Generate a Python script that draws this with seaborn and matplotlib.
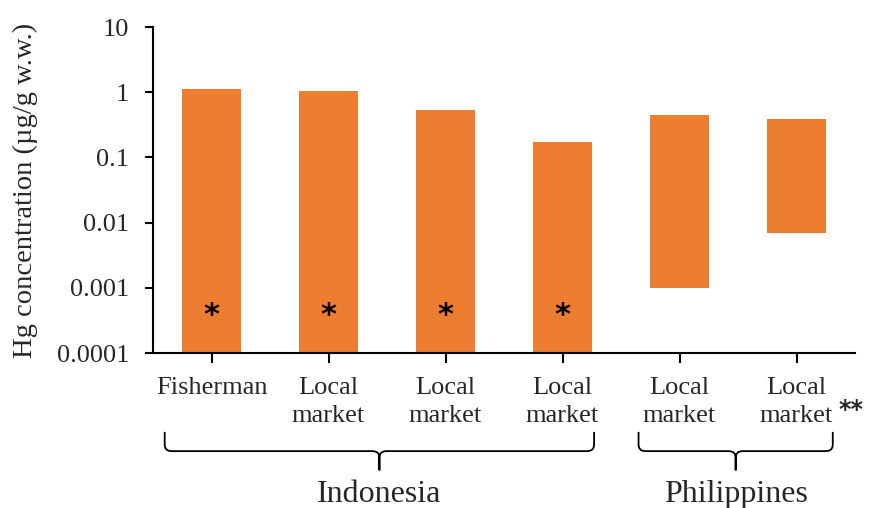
import numpy as np
import pandas as pd
import seaborn as sns
import matplotlib.pyplot as plt
from matplotlib.path import Path
from matplotlib.patches import PathPatch

# ---- data ----
site_ids = ["F1", "LM1", "LM2", "LM3", "LM4", "LM5"]
tick_labels = ["Fisherman", "Local\nmarket", "Local\nmarket", "Local\nmarket",
               "Local\nmarket", "Local\nmarket"]
country = ["Indonesia", "Indonesia", "Indonesia", "Indonesia",
           "Philippines", "Philippines"]
hg_min = [0.0001, 0.0001, 0.0001, 0.0001, 0.001, 0.007]
hg_max = [1.12, 1.04, 0.53, 0.17, 0.44, 0.385]
below_lod = [True, True, True, True, False, False]

df = pd.DataFrame({"site": site_ids, "lo": hg_min, "hi": hg_max})
df["span"] = df["hi"] - df["lo"]

sns.set_style("ticks")
plt.rcParams["font.family"] = ["Liberation Serif", "DejaVu Serif"]

fig = plt.figure(figsize=(8.73, 5.08), dpi=100)
ax = fig.add_axes([153 / 873, 1 - 353 / 508, 702 / 873, 326 / 508])

sns.barplot(data=df, x="site", y="span", bottom=df["lo"].values, color="#ED7D31",
            width=0.5, saturation=1, edgecolor="none", ax=ax)

ax.set_yscale("log")
ax.set_ylim(1e-4, 10)
ax.set_xlim(-0.5, len(site_ids) - 0.5)
ax.set_yticks([1e-4, 1e-3, 1e-2, 1e-1, 1, 10])
ax.set_yticklabels(["0.0001", "0.001", "0.01", "0.1", "1", "10"])
ax.minorticks_off()
ax.set_xticks(range(len(site_ids)))
ax.set_xticklabels(tick_labels, linespacing=1.4)
ax.tick_params(axis="y", labelsize=19, length=6, width=1.5, pad=11, color="black")
ax.tick_params(axis="x", labelsize=19, length=7, width=1.5, pad=10, color="black")
ax.set_xlabel("")
ax.set_ylabel("Hg concentration (µg/g w.w.)", fontsize=20.5, labelpad=14)
sns.despine(ax=ax)
for s in ["left", "bottom"]:
    ax.spines[s].set_linewidth(1.5)
    ax.spines[s].set_color("black")

# asterisks for samples below detection
for i, flag in enumerate(below_lod):
    if flag:
        ax.text(i, 0.00037, "*", ha="center", va="center", fontsize=22,
                fontweight="bold", family="DejaVu Sans", color="black")
ax.text(len(site_ids) - 1 + 0.36, -0.175, "**", transform=ax.get_xaxis_transform(),
        ha="left", va="center", fontsize=17, fontweight="bold",
        family="DejaVu Sans", clip_on=False)


def brace(ax, x0, x1, y_top=-0.242, y_mid=-0.301, y_tip=-0.36, rx=0.06, ry=0.02):
    xm = (x0 + x1) / 2
    verts, codes = [], []
    for xa, sgn in [(x0, 1), (x1, -1)]:
        verts += [(xa, y_top), (xa, y_mid + ry), (xa, y_mid), (xa + sgn * rx, y_mid),
                  (xm - sgn * rx, y_mid), (xm, y_mid), (xm, y_mid - ry), (xm, y_tip)]
        codes += [Path.MOVETO, Path.LINETO, Path.CURVE3, Path.CURVE3,
                  Path.LINETO, Path.CURVE3, Path.CURVE3, Path.LINETO]
    patch = PathPatch(Path(verts, codes), transform=ax.get_xaxis_transform(),
                      fill=False, lw=1.3, color="black", clip_on=False)
    ax.add_patch(patch)
    return xm


groups = ["Indonesia", "Philippines"]
for g in groups:
    idx = [i for i, c in enumerate(country) if c == g]
    x0 = idx[0] - (0.4 if g == "Indonesia" else 0.35)
    x1 = idx[-1] + (0.27 if g == "Indonesia" else 0.31)
    xm = brace(ax, x0, x1)
    ax.text(xm, -0.435, g, transform=ax.get_xaxis_transform(), ha="center",
            va="center", fontsize=23, clip_on=False)

fig.savefig("out.png", dpi=100)
